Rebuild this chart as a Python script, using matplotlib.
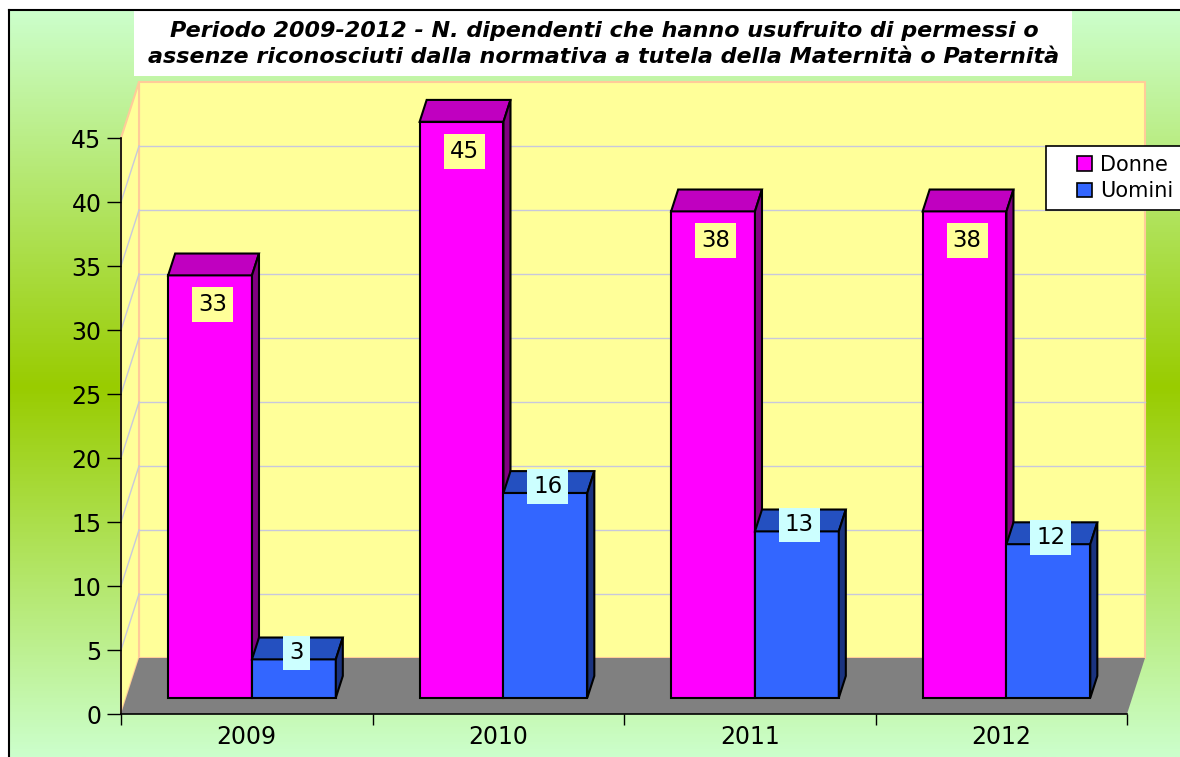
import numpy as np
import matplotlib
matplotlib.use("Agg")
import matplotlib.pyplot as plt
from matplotlib.patches import Polygon, Rectangle, Patch

# data
years = ["2009", "2010", "2011", "2012"]
donne = [33, 45, 38, 38]
uomini = [3, 16, 13, 12]
series_names = ["Donne", "Uomini"]
title_lines = ["Periodo 2009-2012 - N. dipendenti che hanno usufruito di permessi o",
               "assenze riconosciuti dalla normativa a tutela della Maternità o Paternità"]
yticks = list(range(0, 50, 5))

W, H = 1180, 757
fig = plt.figure(figsize=(W / 100, H / 100), dpi=100)
fig.patch.set_facecolor("white")


def fx(px):
    return px / W


def fy(py):
    return 1 - py / H


# background gradient (light green -> yellow green -> light green)
bg = fig.add_axes([fx(9), 0, 1 - fx(9), fy(10)])
rows = np.linspace(10, 757, 400)
light = np.array([0xcc, 0xff, 0xcc]) / 255
dark = np.array([0x99, 0xcc, 0x00]) / 255
t = np.where(rows < 387, (rows - 10) / (387 - 10), 1 - (rows - 387) / (757 - 387))
t = np.clip(t, 0, 1)[:, None]
grad = light * (1 - t) + dark * t
bg.imshow(grad[:, None, :], aspect="auto", extent=[0, 1, 0, 1])
bg.set_axis_off()
fig.add_artist(plt.Line2D([fx(9), fx(9)], [0, fy(10)], color="black", lw=1.5))
fig.add_artist(plt.Line2D([fx(9), 1], [fy(10), fy(10)], color="black", lw=1.5))

# title box
fig.add_artist(Rectangle((fx(134), fy(76)), fx(1072) - fx(134), fy(10) - fy(76),
                         transform=fig.transFigure, facecolor="white", edgecolor="none"))
for k, line in enumerate(title_lines):
    fig.text(fx(604), fy(31 + 26 * k), line, ha="center", va="center", fontsize=16,
             fontweight="bold", fontstyle="italic", family="DejaVu Sans")

# front plane axes: x = category units, y = value
ax = fig.add_axes([fx(121), fy(714), fx(1127) - fx(121), fy(138) - fy(714)])
ax.set_xlim(0, 4)
ax.set_ylim(0, 45)
ax.patch.set_alpha(0)

DX = 18 / 251.5   # depth offset in category units
DY = 56 / 12.8    # depth offset in value units
wall = "#ffff99"
edge = "#ffcc99"
grid = "#c8c8dc"

# walls and floor
ax.add_patch(Rectangle((DX, DY), 4, 45, facecolor=wall, edgecolor=edge, lw=1.5,
                       clip_on=False, zorder=1))
ax.add_patch(Polygon([(0, 0), (DX, DY), (DX, 45 + DY), (0, 45)], facecolor=wall,
                     edgecolor=edge, lw=1.5, clip_on=False, zorder=1))
for v in yticks[1:-1]:
    ax.plot([DX, 4 + DX], [v + DY, v + DY], color=grid, lw=1, clip_on=False, zorder=1.5)
    ax.plot([0, DX], [v, v + DY], color=grid, lw=1, clip_on=False, zorder=1.5)
ax.add_patch(Polygon([(0, 0), (DX, DY), (4 + DX, DY), (4, 0)], facecolor="#808080",
                     edgecolor="none", clip_on=False, zorder=2))

# bars
F0, F1 = 0.29, 0.68
d = F1 - F0
face_cols = [("#ff00ff", "#c000c0", "#800080"), ("#3366ff", "#2450c0", "#1a3380")]
label_bg = ["#ffff99", "#ccffff"]
y0 = F0 * DY
for i in range(len(years)):
    for j, vals in enumerate([donne, uomini]):
        front, top, side = face_cols[j]
        x0 = i + 1 / 6 + j / 3 + F0 * DX
        w = 1 / 3
        h = vals[i]
        ax.bar(x0, h, width=w, bottom=y0, align="edge", color=front, edgecolor="black",
               lw=1.5, clip_on=False, zorder=3 + i)
        ax.add_patch(Polygon([(x0, y0 + h), (x0 + w, y0 + h), (x0 + w + d * DX, y0 + h + d * DY),
                              (x0 + d * DX, y0 + h + d * DY)], facecolor=top, edgecolor="black",
                             lw=1.5, clip_on=False, zorder=3 + i))
        ax.add_patch(Polygon([(x0 + w, y0), (x0 + w + d * DX, y0 + d * DY),
                              (x0 + w + d * DX, y0 + h + d * DY), (x0 + w, y0 + h)],
                             facecolor=side, edgecolor="black", lw=1.5, clip_on=False, zorder=3 + i))
        ly = y0 + h - 2.3 if j == 0 else y0 + h + 0.5
        ax.text(x0 + w / 2 + 0.01, ly, str(h), ha="center", va="center", fontsize=16.5,
                zorder=10, bbox=dict(boxstyle="square,pad=0.26", facecolor=label_bg[j],
                                     edgecolor="none"))

# axes
for s in ["top", "right"]:
    ax.spines[s].set_visible(False)
ax.spines["left"].set_linewidth(1.2)
ax.spines["bottom"].set_linewidth(1.2)
ax.spines["left"].set_zorder(20)
ax.spines["bottom"].set_zorder(20)
ax.set_yticks(yticks)
ax.set_yticklabels([str(v) for v in yticks])
ax.tick_params(axis="y", labelsize=17, length=10, width=1, pad=4)
ax.set_xticks(range(5))
ax.set_xticklabels([])
ax.set_xticks([i + 0.5 for i in range(4)], minor=True)
ax.set_xticklabels(years, minor=True)
ax.tick_params(axis="x", which="major", length=8, width=1)
ax.tick_params(axis="x", which="minor", length=0, labelsize=17, pad=8)

# legend
fig.add_artist(Rectangle((fx(1046), fy(210)), fx(1190) - fx(1046), fy(146) - fy(210),
                         transform=fig.transFigure, facecolor="white", edgecolor="black", lw=1.2))
handles = [Patch(facecolor=face_cols[k][0], edgecolor="black", lw=1.2) for k in range(2)]
leg = fig.legend(handles, series_names, loc="center left", bbox_to_anchor=(fx(1067), fy(178)),
                 frameon=False, fontsize=15, handlelength=0.7, handleheight=0.7,
                 handletextpad=0.4, labelspacing=0.3, borderpad=0)

fig.savefig("out.png", dpi=100)
